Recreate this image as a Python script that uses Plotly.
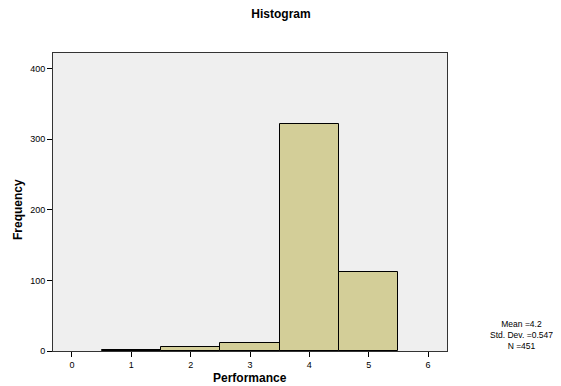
import plotly.graph_objects as go

categories = [1, 2, 3, 4, 5]
frequency = [1, 5, 11, 322, 112]
x_ticks = [0, 1, 2, 3, 4, 5, 6]
y_ticks = [0, 100, 200, 300, 400]
stats_lines = ["Mean =4.2", "Std. Dev. =0.547", "N =451"]

FONT = "Liberation Sans, Arial, sans-serif"
OFF = 8  # default page body margin
W, H = 561 - OFF, 386 - OFF
# plot area in page pixels: left 53, right 447, top 53, bottom 351
L = 53 - OFF
T = 53 - OFF
R = W - (447 - OFF)
B = H - (351 - OFF)
pw = W - L - R
ph = H - T - B


def px_x(x):
    return (x - OFF - L) / pw


def px_y(y):
    return (H - B - (y - OFF)) / ph


fig = go.Figure()
fig.add_trace(go.Bar(
    x=categories, y=frequency, width=1,
    marker=dict(color="#D3CE98", line=dict(color="black", width=1)),
    showlegend=False, hoverinfo="x+y",
))

fig.update_layout(
    width=W, height=H,
    margin=dict(l=L, r=R, t=T, b=B, autoexpand=False),
    paper_bgcolor="white",
    plot_bgcolor="#EFEFEF",
    font=dict(family=FONT, color="black", size=9),
    bargap=0,
    title=dict(text="<b>Histogram</b>", x=(281 - OFF) / W, xanchor="center",
               y=1 - (14 - OFF) / H, yanchor="middle",
               font=dict(family=FONT, size=12, color="black")),
    annotations=[
        dict(text="<br>".join(stats_lines), x=px_x(521), y=px_y(335),
             xref="paper", yref="paper", showarrow=False,
             xanchor="center", yanchor="middle",
             font=dict(family=FONT, size=8.5, color="black"), align="center"),
        dict(text="<b>Frequency</b>", x=px_x(18), y=px_y(210),
             xref="paper", yref="paper", showarrow=False, textangle=-90,
             xanchor="center", yanchor="middle",
             font=dict(family=FONT, size=12, color="black")),
        dict(text="<b>Performance</b>", x=px_x(250), y=px_y(378),
             xref="paper", yref="paper", showarrow=False,
             xanchor="center", yanchor="middle",
             font=dict(family=FONT, size=12, color="black")),
    ],
)

fig.update_xaxes(
    range=[-0.32, 6.32], tickmode="array", tickvals=x_ticks,
    ticks="outside", ticklen=5, tickcolor="black", tickwidth=1,
    showline=True, linecolor="#333333", linewidth=1, mirror=True,
    showgrid=False, zeroline=False, automargin=False,
    tickfont=dict(size=9),
)
fig.update_yaxes(
    range=[0, 422], tickmode="array", tickvals=y_ticks,
    ticks="outside", ticklen=5, tickcolor="black", tickwidth=1,
    showline=True, linecolor="#333333", linewidth=1, mirror=True,
    showgrid=False, zeroline=False, automargin=False,
    tickfont=dict(size=9),
)

fig.write_html("out.html")
